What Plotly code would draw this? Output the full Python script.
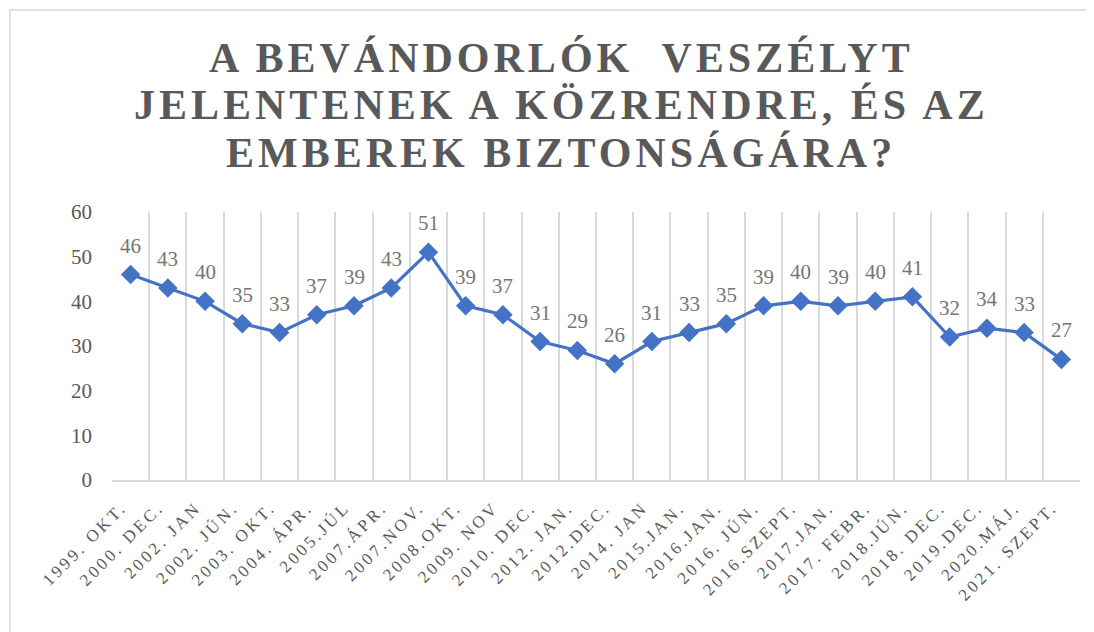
import plotly.graph_objects as go

categories = ["1999. OKT.", "2000. DEC.", "2002. JAN", "2002. JÚN.", "2003. OKT.", "2004. ÁPR.",
              "2005.JÚL", "2007.ÁPR.", "2007.NOV.", "2008.OKT.", "2009. NOV", "2010. DEC.",
              "2012. JAN.", "2012.DEC.", "2014. JAN", "2015.JAN.", "2016.JAN.", "2016. JÚN.",
              "2016.SZEPT.", "2017.JAN.", "2017. FEBR.", "2018.JÚN.", "2018. DEC.", "2019.DEC.",
              "2020.MÁJ.", "2021. SZEPT."]
values = [46, 43, 40, 35, 33, 37, 39, 43, 51, 39, 37, 31, 29, 26, 31, 33, 35, 39, 40, 39,
          40, 41, 32, 34, 33, 27]
y_ticks = [0, 10, 20, 30, 40, 50, 60]

title_lines = ["A BEVÁNDORLÓK  VESZÉLYT", "JELENTENEK A KÖZRENDRE, ÉS AZ", "EMBEREK BIZTONSÁGÁRA?"]

gray = "#595959"
font_fam = "Liberation Serif, Times New Roman, serif"

# page body has an 8px margin; layout numbers below compensate for it
L, R, T, B = 104, 22, 204, 160
W, H = 1094, 632
pw, ph = W - L - R, H - T - B


def px_x(x):
    return (x - L) / pw


def px_y(y):
    return (H - B - y) / ph


fig = go.Figure()
fig.add_trace(go.Scatter(
    x=categories, y=values, mode="lines+markers",
    line=dict(color="#4472C4", width=3.2),
    marker=dict(symbol="diamond", size=15, color="#4472C4"),
    cliponaxis=False, hoverinfo="x+y",
))

annotations = []
for c, v in zip(categories, values):
    annotations.append(dict(
        x=c, y=v, xref="x", yref="y", text=str(v), showarrow=False,
        yshift=29, xanchor="center", yanchor="middle",
        font=dict(family=font_fam, size=21, color="#767676")))

for i, line in enumerate(title_lines):
    annotations.append(dict(
        text='<span style="letter-spacing:4px">' + line.replace("  ", "\u00a0 ") + "</span>",
        xref="paper", yref="paper", x=px_x(553), y=px_y([50, 97, 145][i]),
        xanchor="center", yanchor="middle", showarrow=False,
        font=dict(family=font_fam, size=42, color=gray, weight="bold")))

fig.update_layout(
    width=W, height=H,
    paper_bgcolor="white", plot_bgcolor="white",
    margin=dict(l=L, r=R, t=T, b=B),
    showlegend=False,
    annotations=annotations,
    xaxis=dict(type="category", tickson="boundaries", showgrid=True, gridcolor="#D9D9D9",
               gridwidth=1.5, showline=True, linecolor="#D9D9D9", linewidth=1.5,
               ticks="", tickangle=-45,
               tickvals=categories,
               ticktext=['<span style="letter-spacing:3px">' + c + "</span>" for c in categories],
               tickfont=dict(family=font_fam, size=17, color=gray),
               ticklabelstandoff=9, ticklabelshift=-9,
               range=[-0.5, len(categories) - 0.5]),
    yaxis=dict(range=[0, 60], tickvals=y_ticks, showgrid=False, zeroline=False,
               showline=False, ticks="", ticklabelstandoff=19,
               tickfont=dict(family=font_fam, size=21, color=gray)),
    shapes=[dict(type="rect", xref="paper", yref="paper",
                 x0=px_x(2), x1=px_x(1110),
                 y0=px_y(650), y1=px_y(2),
                 line=dict(color="#D9D9D9", width=1.5), fillcolor="rgba(0,0,0,0)",
                 layer="below")],
)

fig.write_html("out.html")
